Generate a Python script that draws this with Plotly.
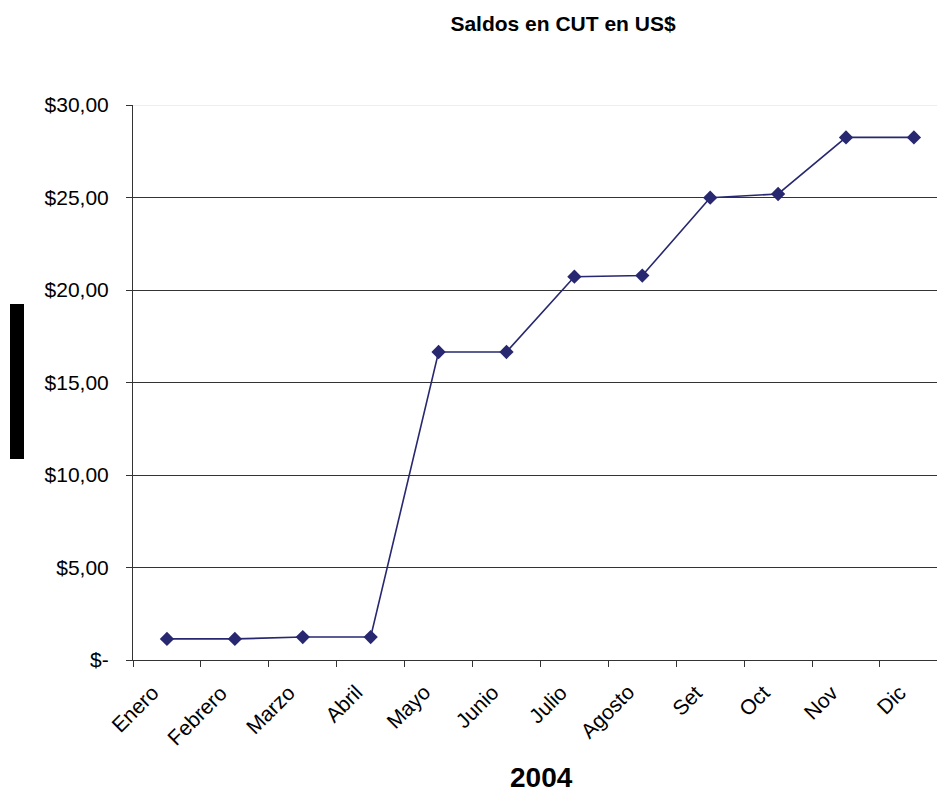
import plotly.graph_objects as go

months = ["Enero", "Febrero", "Marzo", "Abril", "Mayo", "Junio",
          "Julio", "Agosto", "Set", "Oct", "Nov", "Dic"]
saldos = [1.14, 1.14, 1.24, 1.24, 16.65, 16.65, 20.72, 20.78, 24.99, 25.19, 28.25, 28.25]
y_ticks = [0, 5, 10, 15, 20, 25, 30]
y_labels = ["$-", "$5,00", "$10,00", "$15,00", "$20,00", "$25,00", "$30,00"]

W, H = 937, 794
L, R, T, B = 133, 0, 105, 134
PW, PH = W - L - R, H - T - B
FONT = "Liberation Sans, Arial, sans-serif"

fig = go.Figure()
fig.add_trace(go.Scatter(
    x=months, y=saldos, mode="lines+markers",
    line=dict(color="#27286f", width=1.6),
    marker=dict(symbol="diamond", size=11, color="#27286f"),
    showlegend=False, hoverinfo="x+y",
))

# rotated category labels (placed like the reference: end just left of category centre)
annotations = [dict(text=m, xref="x", yref="paper", x=m, y=-18 / PH,
                    xshift=-1, xanchor="right", yanchor="top", textangle=-45,
                    showarrow=False, font=dict(size=21, family=FONT, color="black"))
               for m in months]
annotations.append(dict(text="<b>2004</b>", xref="paper", yref="paper",
                        x=(541 - L) / PW, y=(H - B - 777) / PH,
                        xanchor="center", yanchor="middle", showarrow=False,
                        font=dict(size=28, family=FONT, color="black")))

fig.update_layout(
    width=W, height=H,
    margin=dict(l=L, r=R, t=T, b=B, pad=0),
    paper_bgcolor="white", plot_bgcolor="white",
    font=dict(family=FONT, color="black", size=21),
    title=dict(text="<b>Saldos en CUT en US$</b>", x=563 / W, xanchor="center",
               y=1 - 24 / H, yanchor="middle",
               font=dict(size=21, family=FONT, color="black")),
    xaxis=dict(
        type="category", range=[-0.5, 11.34],
        showline=True, linecolor="#333333", linewidth=1,
        ticks="outside", ticklen=6, tickcolor="#333333", tickson="boundaries",
        showticklabels=False,
        showgrid=False, zeroline=False,
    ),
    yaxis=dict(
        range=[0, 30], tickvals=y_ticks, ticktext=y_labels,
        showline=True, linecolor="#333333", linewidth=1,
        ticks="outside", ticklen=6, tickcolor="#333333",
        showgrid=True, gridcolor="#333333", gridwidth=1, zeroline=False,
        tickfont=dict(size=21), ticklabelstandoff=13,
    ),
    annotations=annotations,
)

# light top border line at 30
fig.add_shape(type="line", xref="paper", yref="y", x0=0, x1=1, y0=30, y1=30,
              line=dict(color="#e8e8e8", width=1.5), layer="above")
# black bar on the left (obscured axis title)
fig.add_shape(type="rect", xref="paper", yref="paper",
              x0=(10 - L) / PW, x1=(24 - L) / PW,
              y0=(H - B - 459) / PH, y1=(H - B - 304) / PH,
              fillcolor="black", line=dict(width=0))

fig.write_html("out.html")
